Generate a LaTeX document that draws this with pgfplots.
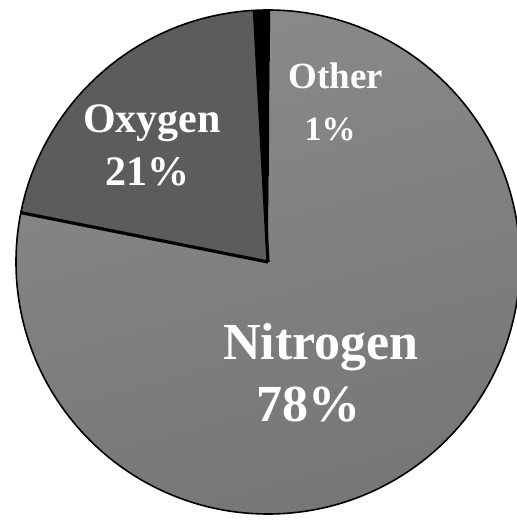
\documentclass[border=0pt]{standalone}
\usepackage{pgfplots}
\pgfplotsset{compat=1.18}
\usepackage{pgfplotstable}
\usepackage{fontspec}
\setmainfont{Liberation Serif}
\definecolor{nitro}{gray}{0.46}
\definecolor{nitrolight}{gray}{0.54}
\definecolor{nitrodark}{gray}{0.30}
\definecolor{oxy}{gray}{0.36}
\pgfplotstableread{
label value
Other 1
Oxygen 21
Nitrogen 78
}\piedata
\begin{document}
\begin{tikzpicture}
\pgfplotstablegetelem{0}{value}\of\piedata \let\vOther\pgfplotsretval
\pgfplotstablegetelem{1}{value}\of\piedata \let\vOxy\pgfplotsretval
\pgfplotstablegetelem{2}{value}\of\piedata \let\vNit\pgfplotsretval
\pgfmathsetmacro\aStart{89.5}
\pgfmathsetmacro\aOne{\aStart+3.6*\vOther}
\pgfmathsetmacro\aTwo{\aOne+3.6*\vOxy}
\pgfmathsetmacro\aThree{\aTwo+3.6*\vNit}
\def\R{126pt}
\begin{axis}[
  width=258.5pt, height=260pt, scale only axis,
  xmin=0, xmax=517, ymin=0, ymax=520,
  hide axis, clip=false]
% Nitrogen
\shade[top color=nitrolight, middle color=nitrodark, bottom color=nitro, shading angle=15]
  (axis cs:268,258) -- ++(\aTwo:\R) arc[start angle=\aTwo, end angle=\aThree, radius=\R] -- cycle;
% Oxygen
\fill[oxy] (axis cs:268,258) -- ++(\aOne:\R) arc[start angle=\aOne, end angle=\aTwo, radius=\R] -- cycle;
% Other
\fill[black] (axis cs:268,258) -- ++(\aStart:\R) arc[start angle=\aStart, end angle=\aOne, radius=\R] -- cycle;
% outlines
\draw[black, line width=0.8pt] (axis cs:268,258) circle[radius=\R];
\draw[black, line width=1.6pt] (axis cs:268,258) -- ++(\aTwo:\R);
\draw[black, line width=1.6pt] (axis cs:268,258) -- ++(\aOne:\R);
% labels
\node[white, font=\bfseries\fontsize{18.5}{20}\selectfont] at (axis cs:336,444) {Other};
\node[white, font=\bfseries\fontsize{17}{19}\selectfont] at (axis cs:330,391) {1\%};
\node[white, font=\bfseries\fontsize{21}{23}\selectfont] at (axis cs:152,397) {Oxygen};
\node[white, font=\bfseries\fontsize{21}{23}\selectfont] at (axis cs:147,348) {21\%};
\node[white, font=\bfseries\fontsize{26}{28}\selectfont] at (axis cs:321,173) {Nitrogen};
\node[white, font=\bfseries\fontsize{26}{28}\selectfont] at (axis cs:308,115) {78\%};
\coordinate (BL) at (axis cs:0,0);
\coordinate (TR) at (axis cs:517,520);
\end{axis}
\pgfresetboundingbox
\path[use as bounding box] (BL) rectangle (TR);
\end{tikzpicture}
\end{document}
